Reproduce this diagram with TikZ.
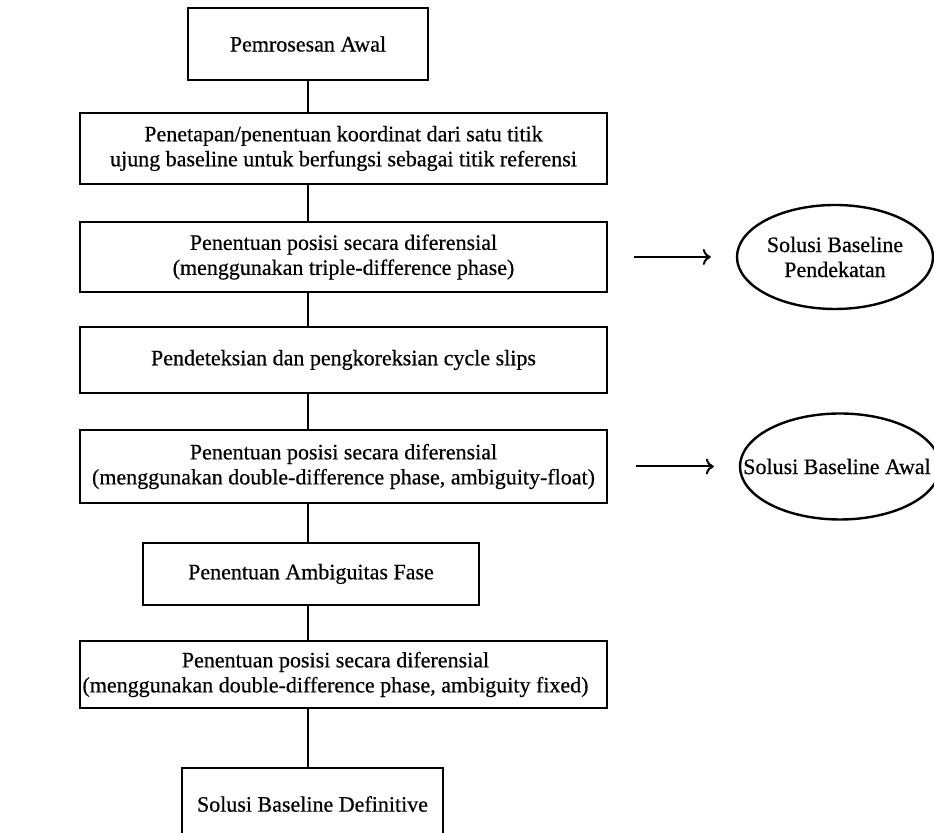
\documentclass[tikz,border=0pt]{standalone}
\usepackage{fontspec}
\setmainfont{Liberation Serif}[FakeBold=0.5]
\usetikzlibrary{arrows.meta,shapes.geometric}
\begin{document}
\begin{tikzpicture}[x=0.5pt,y=-0.5pt,
  txt/.style={font=\fontsize{11}{12.5}\selectfont, align=center, inner sep=0pt},
  box/.style={txt, draw, line width=1.2pt},
  oval/.style={draw, ellipse, line width=1.2pt, inner sep=0pt},
  link/.style={line width=1.1pt},
  arr/.style={line width=1pt, -{To[length=4pt,width=8pt]}}]
\clip (0,0) rectangle (934,833);
\fill[white] (0,0) rectangle (934,833);
% boxes
\node[box, minimum width=120pt, minimum height=36pt] (b1) at (308,44) {Pemrosesan Awal};
\node[box, minimum width=263.5pt, minimum height=35.5pt] (b2) at (343.5,148.5)
  {Penetapan/penentuan koordinat dari satu titik\\ujung baseline untuk berfungsi sebagai titik referensi};
\node[box, minimum width=263.5pt, minimum height=35pt] (b3) at (343.5,257)
  {Penentuan posisi secara diferensial\\(menggunakan triple-difference phase)};
\node[box, minimum width=263.5pt, minimum height=33pt] (b4) at (343.5,360)
  {Pendeteksian dan pengkoreksian cycle slips};
\node[box, minimum width=263.5pt, minimum height=36.5pt] (b5) at (343.5,466.5)
  {Penentuan posisi secara diferensial\\(menggunakan double-difference phase, ambiguity-float)};
\node[box, minimum width=168pt, minimum height=31pt] (b6) at (311,574) {Penentuan Ambiguitas Fase};
\node[box, minimum width=263.5pt, minimum height=33.5pt] (b7) at (343.5,674.5) {};
\node[txt] (b7t) at ([xshift=-4pt]b7.center)
  {Penentuan posisi secara diferensial\\(menggunakan double-difference phase, ambiguity fixed)};
\node[box, minimum width=130.5pt, minimum height=36pt] (b8) at (312.5,804) {Solusi Baseline Definitive};
% ellipses
\node[oval, minimum width=98pt, minimum height=52pt] (e1) at (835,257) {};
\node[txt] (e1t) at (e1.center) {Solusi Baseline\\Pendekatan};
\node[oval, minimum width=100pt, minimum height=53pt] (e2) at (840,466.5) {};
\node[txt] (e2t) at (837,466.5) {Solusi Baseline Awal};
% vertical connectors
\draw[link] (b1.south) -- (b1.south |- b2.north);
\draw[link] (b2.south -| b1.south) -- (b3.north -| b1.south);
\draw[link] (b3.south -| b1.south) -- (b4.north -| b1.south);
\draw[link] (b4.south -| b1.south) -- (b5.north -| b1.south);
\draw[link] (b5.south -| b1.south) -- (b6.north -| b1.south);
\draw[link] (b6.south -| b1.south) -- (b7.north -| b1.south);
\draw[link] (b7.south -| b1.south) -- (b8.north -| b1.south);
% arrows
\draw[arr, shorten <=13pt, shorten >=12.5pt] (b3.east) -- (e1.west);
\draw[arr, shorten <=14pt, shorten >=12.5pt] (b5.east) -- (e2.west);
\end{tikzpicture}
\end{document}
